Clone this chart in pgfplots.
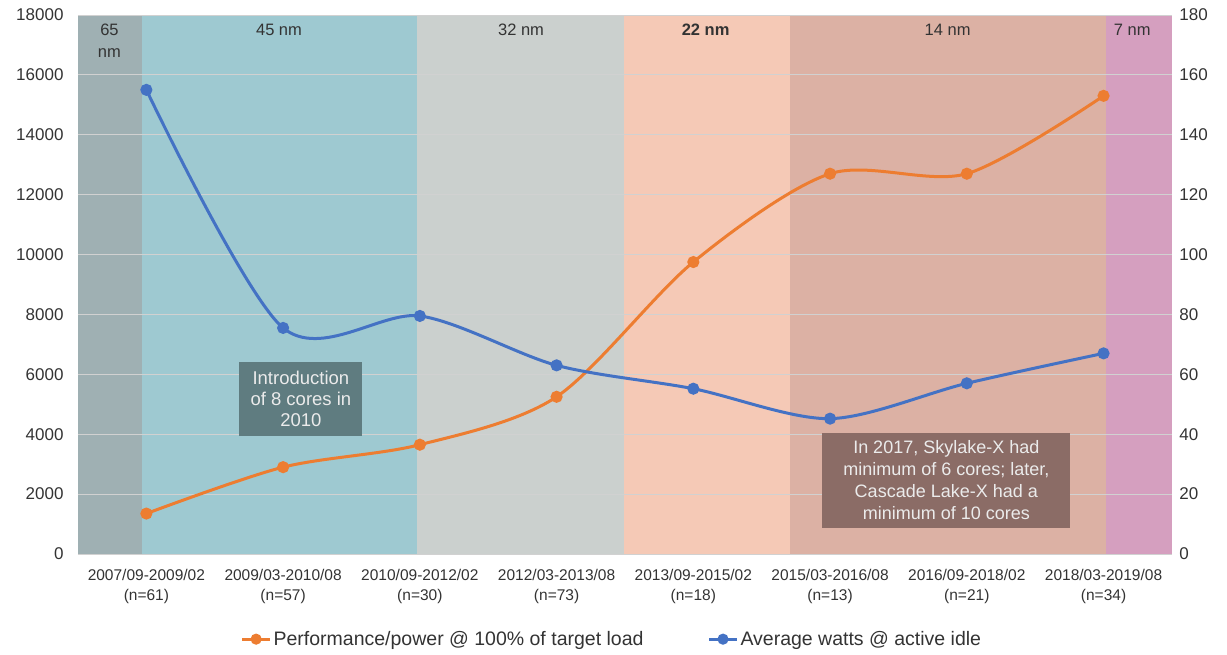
\documentclass[border=0pt]{standalone}
\usepackage{fontspec}
\setmainfont{Liberation Sans}
\usepackage{pgfplots}
\pgfplotsset{compat=1.18}

\definecolor{bandA}{HTML}{9FB0B3}
\definecolor{bandB}{HTML}{9EC9D1}
\definecolor{bandC}{HTML}{CBD0CE}
\definecolor{bandD}{HTML}{F5C9B6}
\definecolor{bandE}{HTML}{DCB1A4}
\definecolor{bandF}{HTML}{D59FBF}
\definecolor{perf}{HTML}{ED7D31}
\definecolor{watt}{HTML}{4472C4}
\definecolor{boxA}{HTML}{5F7C80}
\definecolor{boxB}{HTML}{8B6C66}
\definecolor{txt}{HTML}{333333}

\pgfplotsset{
  base/.style={
    width=1094bp, height=539bp, scale only axis,
    xmin=-0.5, xmax=7.5,
    axis line style={draw=none},
    major tick length=0pt,
    scaled y ticks=false,
    /pgf/number format/1000 sep={},
    /pgf/number format/assume math mode=true,
    tick label style={font=\fontsize{17bp}{20bp}\selectfont, text=txt},
  },
  ser/.style={line width=3bp, smooth, mark=*, mark size=4.5bp, mark options={solid}},
}

\begin{document}
\begin{tikzpicture}
% left axis: bands, grid and tick labels
\begin{axis}[base, name=main,
    ymin=0, ymax=18000, ytick={0,2000,...,18000},
    ymajorgrids, grid style={draw=black!18, line width=0.8bp},
    axis on top,
    xtick={0,...,7},
    xticklabels={{2007/09-2009/02\\(n=61)},{2009/03-2010/08\\(n=57)},
      {2010/09-2012/02\\(n=30)},{2012/03-2013/08\\(n=73)},
      {2013/09-2015/02\\(n=18)},{2015/03-2016/08\\(n=13)},
      {2016/09-2018/02\\(n=21)},{2018/03-2019/08\\(n=34)}},
    x tick label style={align=center, font=\fontsize{15.5bp}{20bp}\selectfont, yshift=-12bp},
    y tick label style={xshift=-11bp},
  ]
  \addplot[fill=bandA, draw=none] coordinates {(-0.5,18000) (-0.03,18000)} \closedcycle;
  \addplot[fill=bandB, draw=none] coordinates {(-0.03,18000) (1.98,18000)} \closedcycle;
  \addplot[fill=bandC, draw=none] coordinates {(1.98,18000) (3.49,18000)} \closedcycle;
  \addplot[fill=bandD, draw=none] coordinates {(3.49,18000) (4.71,18000)} \closedcycle;
  \addplot[fill=bandE, draw=none] coordinates {(4.71,18000) (7.02,18000)} \closedcycle;
  \addplot[fill=bandF, draw=none] coordinates {(7.02,18000) (7.5,18000)} \closedcycle;

  \begin{scope}[every node/.style={font=\fontsize{16.5bp}{22bp}\selectfont, text=txt, align=center}]
  \node at (axis cs:-0.27,17130) {65\\nm};
  \node at (axis cs:0.97,17500) {45 nm};
  \node at (axis cs:2.74,17500) {32 nm};
  \node at (axis cs:4.09,17500) {\bfseries 22 nm};
  \node at (axis cs:5.86,17500) {14 nm};
  \node at (axis cs:7.21,17500) {7 nm};
  \end{scope}
\end{axis}

% orange series on the left scale
\begin{axis}[base, hide axis, ymin=0, ymax=18000]
  \addplot[ser, color=perf] coordinates {
    (0,1350) (1,2900) (2,3650) (3,5250) (4,9750) (5,12700) (6,12700) (7,15300)};
\end{axis}

% right scale: blue series, notes and legend
\begin{axis}[base, ymin=0, ymax=180, ytick={0,20,...,180},
    yticklabel pos=right, xtick=\empty,
    y tick label style={xshift=4bp},
    legend style={draw=none, fill=none, legend columns=-1, at={(0.488,-0.158)}, anchor=center,
      font=\fontsize{19.5bp}{22bp}\selectfont, text=txt, inner sep=1bp,
      /tikz/every even column/.append style={column sep=62bp}},
    legend image code/.code={\draw[mark repeat=2,mark phase=2, line width=3bp, mark size=4bp]
      plot coordinates {(0bp,0bp)(14bp,0bp)(28bp,0bp)};},
  ]
  \addlegendimage{line width=3bp, mark=*, color=perf}
  \addlegendentry{Performance/power @ 100\% of target load}
  \addplot[ser, color=watt] coordinates {
    (0,155) (1,75.5) (2,79.5) (3,63) (4,55.2) (5,45.2) (6,57) (7,67)};
  \addlegendentry{Average watts @ active idle}

  \node[fill=boxA, text=white!92!black, align=center, minimum width=123bp, minimum height=74bp,
        inner sep=1bp, font=\fontsize{18.5bp}{21bp}\selectfont]
    at (axis cs:1.13,51.8) {Introduction\\of 8 cores in\\2010};
  \node[fill=boxB, text=white!92!black, align=center, minimum width=248bp, minimum height=95bp,
        inner sep=1bp, font=\fontsize{18bp}{21.7bp}\selectfont]
    at (axis cs:5.85,24.7) {In 2017, Skylake-X had\\minimum of 6 cores; later,\\Cascade Lake-X had a\\minimum of 10 cores};
  \node[font=\fontsize{9.5bp}{11bp}\selectfont, text=txt] at (rel axis cs:0.965,-0.157) {nm = nanometers};
\end{axis}

\path (main.south west) ++(-78bp,-101bp) rectangle ++(1227bp,655bp);
\end{tikzpicture}
\end{document}
